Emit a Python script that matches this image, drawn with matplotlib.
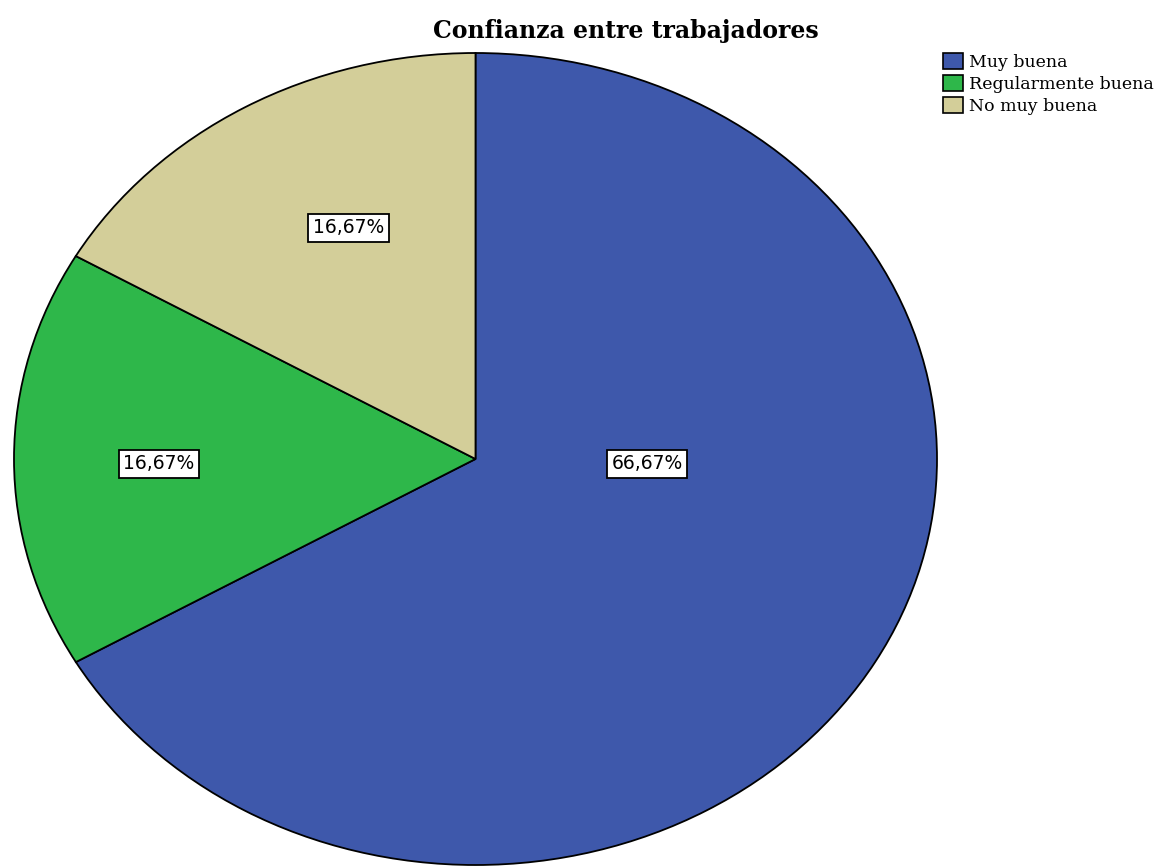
import numpy as np
import matplotlib.pyplot as plt
from matplotlib.patches import Patch

categories = ['Muy buena', 'Regularmente buena', 'No muy buena']
values = [66.67, 16.67, 16.67]
labels = ['66,67%', '16,67%', '16,67%']
colors = ['#3e58ab', '#2eb74a', '#d3ce99']

W, H = 1157, 867
fig = plt.figure(figsize=(W / 100, H / 100), dpi=100)
ax = fig.add_axes([14 / W, 1 - 865 / H, 923 / W, 812 / H])

wedges, _ = ax.pie(values, colors=colors, startangle=90, counterclock=False,
                   wedgeprops=dict(edgecolor='black', linewidth=1.3))
ax.set_aspect('auto')
ax.set_xlim(-1, 1)
ax.set_ylim(-1, 1)
ax.axis('off')

# SPSS-like label placement (radius, angle in degrees)
label_pos = [(0.372, -1.8), (0.686, 181), (0.632, 115.8)]
for (r, a), lab in zip(label_pos, labels):
    t = np.deg2rad(a)
    ax.text(r * np.cos(t), r * np.sin(t), lab, ha='center', va='center',
            fontsize=13.5, family='DejaVu Sans',
            bbox=dict(boxstyle='square,pad=0.25', fc='white', ec='black', lw=1.3))

fig.text(626 / W, 1 - 31 / H, 'Confianza entre trabajadores', ha='center', va='center',
         fontsize=17, fontweight='bold', family='DejaVu Serif')

handles = [Patch(facecolor=c, edgecolor='black', lw=1.2, label=n) for c, n in zip(colors, categories)]
fig.legend(handles=handles, loc='upper left', bbox_to_anchor=(943 / W, 1 - 53 / H),
           frameon=False, prop=dict(family='DejaVu Serif', size=12.5),
           handlelength=1.15, handleheight=1.0, handletextpad=0.35,
           labelspacing=0.25, borderaxespad=0, borderpad=0)

fig.savefig('out.png', dpi=100)
